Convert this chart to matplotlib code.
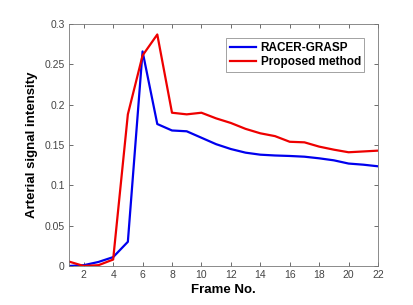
import matplotlib
matplotlib.use("Agg")
import matplotlib.pyplot as plt

frames = list(range(1, 23))
racer_grasp = [0.000, 0.001, 0.005, 0.011, 0.030, 0.266, 0.176, 0.168, 0.167, 0.159,
               0.151, 0.145, 0.1405, 0.138, 0.137, 0.1364, 0.1355, 0.1335, 0.131,
               0.127, 0.1256, 0.1236]
proposed = [0.0055, 0.000, 0.001, 0.008, 0.188, 0.261, 0.287, 0.190, 0.188, 0.190,
            0.183, 0.1773, 0.170, 0.1645, 0.161, 0.154, 0.1533, 0.148, 0.1442,
            0.141, 0.142, 0.143]
x_ticks = list(range(2, 23, 2))
y_ticks = [0, 0.05, 0.1, 0.15, 0.2, 0.25, 0.3]
y_labels = ["0", "0.05", "0.1", "0.15", "0.2", "0.25", "0.3"]

plt.rcParams["font.family"] = ["Liberation Sans", "DejaVu Sans"]

fig = plt.figure(figsize=(4.13, 3.05), dpi=100)
ax = fig.add_axes([69 / 413, 1 - 266 / 305, 309 / 413, 242 / 305])

ax.plot(frames, racer_grasp, color="#0000ee", linewidth=1.6, label="RACER-GRASP")
ax.plot(frames, proposed, color="#ee0000", linewidth=1.6, label="Proposed method")

ax.set_xlim(1, 22)
ax.set_ylim(0, 0.3)
ax.set_xticks(x_ticks)
ax.set_yticks(y_ticks)
ax.set_yticklabels(y_labels)
ax.tick_params(direction="in", top=True, right=True, length=3, width=0.6,
               color="#555555", labelcolor="#444444", labelsize=7.5, pad=3)
for s in ax.spines.values():
    s.set_color("#777777")
    s.set_linewidth(0.6)

ax.set_xlabel("Frame No.", fontsize=9.5, fontweight="bold", labelpad=3)
ax.set_ylabel("Arterial signal intensity", fontsize=9.5, fontweight="bold", labelpad=5)

leg = ax.legend(loc="upper right", prop={"weight": "bold", "size": 8.5},
                fancybox=False, edgecolor="#777777", handlelength=2.2,
                borderpad=0.3, labelspacing=0.2, handletextpad=0.4,
                bbox_to_anchor=(0.975, 0.965))
leg.get_frame().set_linewidth(0.6)

fig.savefig("out.png", dpi=100)
